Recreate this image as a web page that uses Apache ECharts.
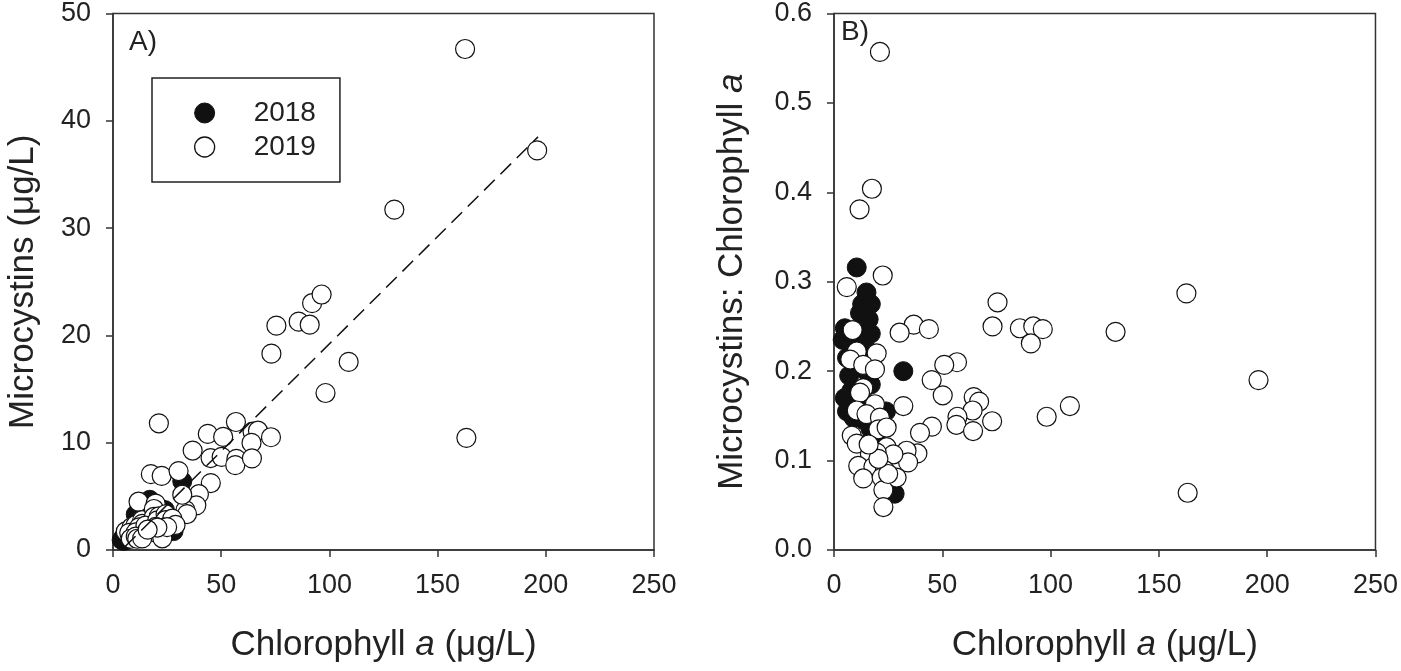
<!DOCTYPE html>
<html>
<head>
<meta charset="utf-8">
<script src="https://cdn.jsdelivr.net/npm/echarts@6/dist/echarts.min.js"></script>
<style>
html,body{margin:0;padding:0;background:#fff;}
#chart{width:1401px;height:671px;}
</style>
</head>
<body>
<div id="chart"></div>
<script>
// ---- Data ----
const chl2018   = [10.5,15.0,13.0,17.0,12.0,16.0,14.0,5.0,4.0,17.0,9.0,13.0,16.0,6.0,11.0,15.0,7.0,17.0,8.0,13.0,5.0,10.0,16.0,6.0,9.0,14.0,17.0,19.0,15.0,24.0,32.0,28.0];
const ratio2018 = [0.316,0.288,0.275,0.275,0.265,0.258,0.250,0.248,0.235,0.242,0.238,0.228,0.222,0.215,0.210,0.200,0.195,0.185,0.178,0.178,0.170,0.165,0.160,0.155,0.148,0.145,0.135,0.125,0.118,0.155,0.200,0.063];
const mc2018    = [3.32,4.32,3.58,4.68,3.18,4.13,3.50,1.24,0.94,4.11,2.14,2.96,3.55,1.29,2.31,3.00,1.37,3.15,1.42,2.31,0.85,1.65,2.56,0.93,1.33,2.03,2.30,2.38,1.77,3.72,6.40,1.76];

const chl2019   = [21.2,17.5,11.8,22.5,5.9,162.7,75.5,36.8,30.3,43.8,73.2,85.8,92.0,96.4,90.9,130.0,196.0,98.2,108.9,163.3,
                   56.8,50.9,45.1,50.2,64.5,67.0,64.0,57.0,56.5,64.2,73.0,45.2,39.7,38.5,33.5,34.2,32.0,8.6,10.5,7.5,
                   19.7,13.5,18.9,13.5,12.0,10.5,18.9,15.0,21.2,8.2,10.5,20.5,24.3,24.3,27.4,19.7,16.6,11.2,18.2,23.5,
                   13.5,22.0,28.9,22.8,22.8,25.0,20.5,16.0];
const ratio2019 = [0.557,0.404,0.381,0.307,0.294,0.287,0.277,0.252,0.243,0.247,0.250,0.248,0.250,0.247,0.231,0.244,0.190,0.149,0.161,0.064,
                   0.210,0.207,0.190,0.173,0.171,0.166,0.156,0.149,0.140,0.133,0.144,0.138,0.131,0.108,0.111,0.098,0.161,0.246,0.222,0.213,
                   0.220,0.207,0.202,0.181,0.176,0.156,0.163,0.152,0.148,0.128,0.119,0.135,0.137,0.115,0.107,0.109,0.107,0.094,0.093,0.089,
                   0.080,0.081,0.081,0.067,0.048,0.085,0.102,0.118];
const mc2019    = [11.81,7.07,4.50,6.91,1.73,46.69,20.91,9.27,7.36,10.82,18.30,21.28,23.00,23.81,21.00,31.72,37.24,14.63,17.53,10.45,
                   11.93,10.54,8.57,8.68,11.03,11.12,9.98,8.49,7.91,8.54,10.51,6.24,5.20,4.16,3.72,3.35,5.15,2.12,2.33,1.60,
                   4.33,2.79,3.82,2.44,2.11,1.64,3.08,2.28,3.14,1.05,1.25,2.77,3.33,2.79,2.93,2.15,1.78,1.05,1.69,2.09,
                   1.08,1.78,2.34,1.53,1.09,2.13,2.09,1.89];

const trendX = [5.5, 196.4];
const trendY = [0.3, 38.5];

const xTicksMax = 250, xTickStep = 50;
const yAMax = 50, yAStep = 10;
const yBMax = 0.6, yBStep = 0.1;

// ---- Build ----
const zip = (a, b) => a.map((v, i) => [v, b[i]]);
const FONT = '"Liberation Sans", Arial, sans-serif';
const axisCol = '#333';
const TITLE = 35;

function xAxisCfg(gi) {
  return {
    gridIndex: gi, type: 'value', min: 0, max: xTicksMax, interval: xTickStep,
    name: 'Chlorophyll {i|a} (\u03bcg/L)', nameLocation: 'middle', nameGap: 78,
    nameTextStyle: { fontFamily: FONT, fontSize: TITLE, color: '#222',
      rich: { i: { fontFamily: FONT, fontSize: TITLE, fontStyle: 'italic', color: '#222' } } },
    axisLine: { show: true, onZero: false, lineStyle: { color: axisCol, width: 1.5 } },
    axisTick: { show: true, inside: false, length: 7, lineStyle: { color: axisCol, width: 1.5 } },
    axisLabel: { fontFamily: FONT, fontSize: 27, color: '#222', margin: 22 },
    splitLine: { show: false }
  };
}

const pt2018 = { color: '#111', borderColor: '#111', borderWidth: 1, opacity: 1 };
const pt2019 = { color: '#fff', borderColor: '#111', borderWidth: 1.2, opacity: 1 };
const SYM = 19;

const option = {
  animation: false,
  backgroundColor: '#fff',
  grid: [
    { left: 113, right: 747, top: 11, bottom: 121, show: true, borderColor: axisCol, borderWidth: 1.5, backgroundColor: 'transparent' },
    { left: 834, right: 25, top: 11, bottom: 121, show: true, borderColor: axisCol, borderWidth: 1.5, backgroundColor: 'transparent' }
  ],
  legend: {
    left: 152, top: 78, orient: 'vertical',
    data: [
      { name: '2018', icon: 'circle', itemStyle: { color: '#111', borderColor: '#111', borderWidth: 1, opacity: 1 } },
      { name: '2019', icon: 'circle', itemStyle: { color: '#fff', borderColor: '#111', borderWidth: 1.3, opacity: 1 } }
    ],
    itemWidth: 20, itemHeight: 20, itemGap: 6,
    padding: [21, 24, 21, 42],
    borderColor: '#222', borderWidth: 1.5,
    textStyle: { fontFamily: FONT, fontSize: 28, color: '#222', padding: [0, 0, 0, 34] },
    selectedMode: false
  },
  graphic: [
    { type: 'text', left: 129, top: 28, style: { text: 'A)', font: '28px ' + FONT, fill: '#222' } },
    { type: 'text', left: 841, top: 18, style: { text: 'B)', font: '28px ' + FONT, fill: '#222' } }
  ],
  xAxis: [xAxisCfg(0), xAxisCfg(1)],
  yAxis: [
    {
      gridIndex: 0, type: 'value', min: 0, max: yAMax, interval: yAStep,
      name: 'Microcystins (\u03bcg/L)', nameLocation: 'middle', nameGap: 72,
      nameTextStyle: { fontFamily: FONT, fontSize: TITLE, color: '#222' },
      axisLine: { show: true, onZero: false, lineStyle: { color: axisCol, width: 1.5 } },
      axisTick: { show: true, inside: false, length: 7, lineStyle: { color: axisCol, width: 1.5 } },
      axisLabel: { fontFamily: FONT, fontSize: 27, color: '#222', margin: 22 },
      splitLine: { show: false }
    },
    {
      gridIndex: 1, type: 'value', min: 0, max: yBMax, interval: yBStep,
      name: 'Microcystins: Chlorophyll {i|a}', nameLocation: 'middle', nameGap: 84,
      nameTextStyle: { fontFamily: FONT, fontSize: TITLE, color: '#222',
        rich: { i: { fontFamily: FONT, fontSize: TITLE, fontStyle: 'italic', color: '#222' } } },
      axisLine: { show: true, onZero: false, lineStyle: { color: axisCol, width: 1.5 } },
      axisTick: { show: true, inside: false, length: 7, lineStyle: { color: axisCol, width: 1.5 } },
      axisLabel: { fontFamily: FONT, fontSize: 27, color: '#222', margin: 22, formatter: v => v.toFixed(1) },
      splitLine: { show: false }
    }
  ],
  series: [
    { name: '2018', type: 'scatter', xAxisIndex: 0, yAxisIndex: 0, symbol: 'circle', symbolSize: SYM, z: 2,
      itemStyle: pt2018, data: zip(chl2018, mc2018) },
    { name: '2019', type: 'scatter', xAxisIndex: 0, yAxisIndex: 0, symbol: 'circle', symbolSize: SYM, z: 3,
      itemStyle: pt2019, data: zip(chl2019, mc2019) },
    { name: 'trend', type: 'line', xAxisIndex: 0, yAxisIndex: 0, symbol: 'none', z: 4, silent: true,
      lineStyle: { color: '#111', width: 1.5, type: [15, 8] }, data: zip(trendX, trendY) },
    { name: '2018', type: 'scatter', xAxisIndex: 1, yAxisIndex: 1, symbol: 'circle', symbolSize: SYM, z: 2,
      itemStyle: pt2018, data: zip(chl2018, ratio2018) },
    { name: '2019', type: 'scatter', xAxisIndex: 1, yAxisIndex: 1, symbol: 'circle', symbolSize: SYM, z: 3,
      itemStyle: pt2019, data: zip(chl2019, ratio2019) }
  ]
};

const chart = echarts.init(document.getElementById('chart'), null, { renderer: 'canvas' });
chart.setOption(option);
</script>
</body>
</html>
